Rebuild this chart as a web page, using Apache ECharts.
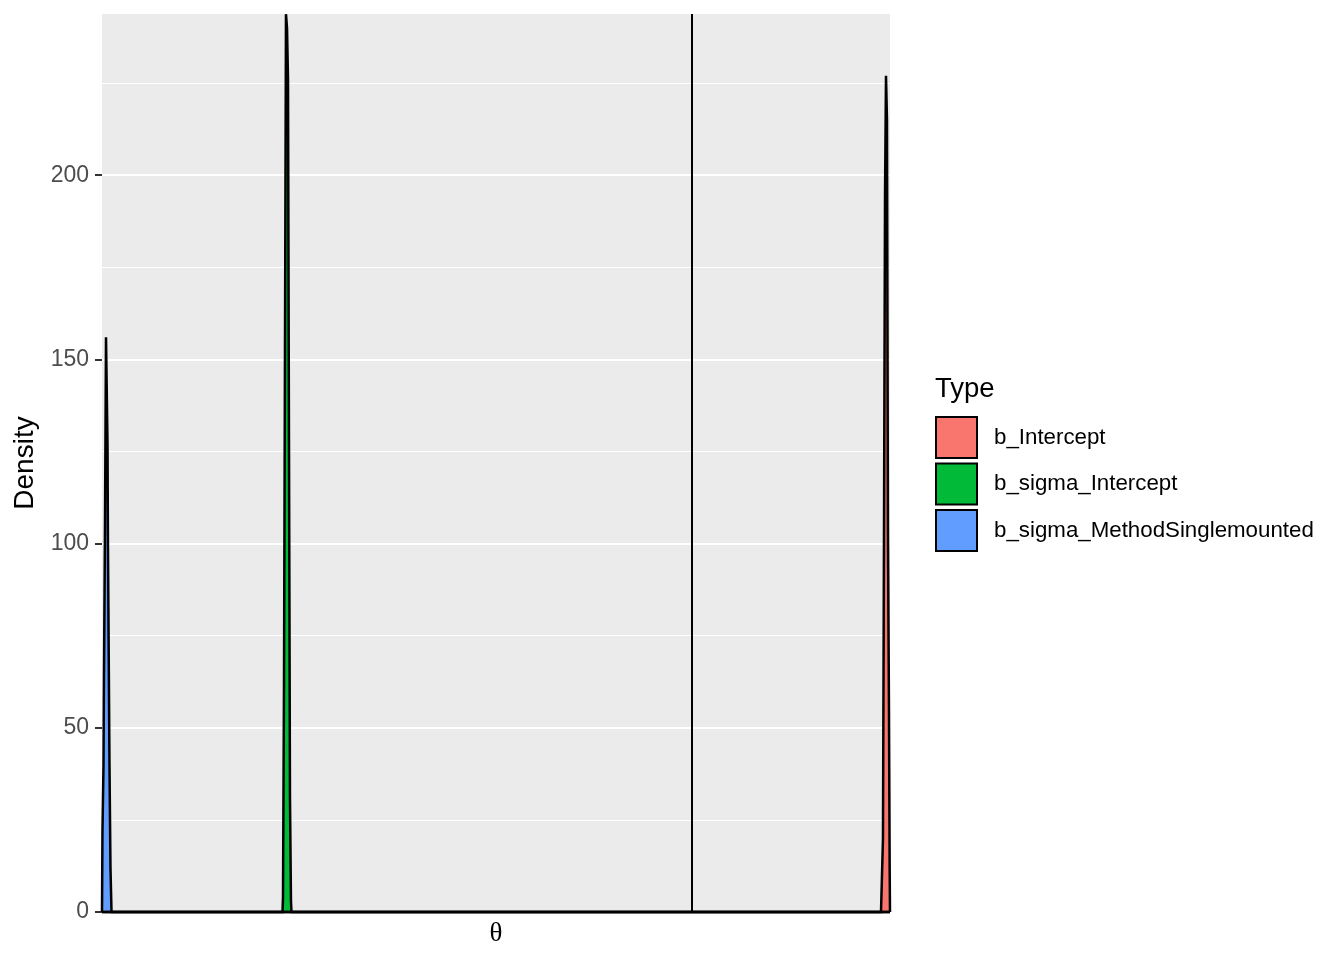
<!DOCTYPE html>
<html>
<head>
<meta charset="utf-8">
<script src="https://cdn.jsdelivr.net/npm/echarts@6/dist/echarts.min.js"></script>
<style>
html,body{margin:0;padding:0;background:#fff;overflow:hidden;}
#c{width:1344px;height:960px;}
</style>
</head>
<body>
<div id="c"></div>
<script>
// ---- data ----
const seriesNames = ['b_Intercept', 'b_sigma_Intercept', 'b_sigma_MethodSinglemounted'];
const seriesColors = ['#F8766D', '#00BA38', '#619CFF'];
const xRange = [-1.1346, 0.3808];
const yRange = [0, 243.75];
const yTicks = [0, 50, 100, 150, 200];
const vlineX = [0];

// density curves, [theta, density]
const bInterceptDens = [
  [-1.1346, 0], [0.3635, 0], [0.3654, 10], [0.3673, 20], [0.3692, 100],
  [0.3712, 194], [0.3731, 227], [0.3750, 215], [0.3769, 102],
  [0.3788, 56], [0.3802, 11], [0.3808, 11], [0.3808, 0]
];
const bSigmaInterceptDens = [
  [-1.1346, 0], [-0.7875, 0], [-0.7865, 4], [-0.7846, 62], [-0.7827, 153],
  [-0.7808, 243.7], [-0.7788, 240], [-0.7769, 226], [-0.7750, 127],
  [-0.7731, 31], [-0.7712, 3], [-0.7702, 0], [0.3808, 0]
];
const bSigmaMethodDens = [
  [-1.1346, 0], [-1.1337, 22], [-1.1317, 40], [-1.1308, 64], [-1.1288, 106],
  [-1.1269, 156], [-1.1240, 127], [-1.1231, 99], [-1.1202, 40],
  [-1.1183, 12], [-1.1163, 0], [0.3808, 0]
];
const densities = [bInterceptDens, bSigmaInterceptDens, bSigmaMethodDens];

// ---- chart ----
const chart = echarts.init(document.getElementById('c'));
const series = seriesNames.map((n, i) => ({
  name: n,
  type: 'line',
  data: densities[i],
  symbol: 'none',
  smooth: false,
  clip: false,
  itemStyle: { color: seriesColors[i], borderColor: '#000', borderWidth: 2 },
  lineStyle: { color: '#000', width: 2.5, join: 'miter' },
  areaStyle: { color: seriesColors[i], opacity: 1 },
  z: 3
}));
series.push({
  name: 'vline',
  type: 'line',
  data: [],
  markLine: {
    silent: true,
    symbol: 'none',
    label: { show: false },
    lineStyle: { color: '#000', width: 2, type: 'solid' },
    data: vlineX.map(v => ({ xAxis: v }))
  },
  z: 4
});

chart.setOption({
  animation: false,
  backgroundColor: '#fff',
  textStyle: { fontFamily: 'Liberation Sans, Arial, sans-serif' },
  grid: {
    left: 102, right: 454, top: 14, bottom: 48,
    show: true, backgroundColor: '#EBEBEB', borderWidth: 0
  },
  xAxis: {
    type: 'value',
    min: xRange[0], max: xRange[1],
    name: 'θ',
    nameLocation: 'middle',
    nameGap: 8,
    nameTextStyle: { fontFamily: 'Liberation Serif, DejaVu Serif, serif', fontSize: 27, color: '#000' },
    axisLine: { show: false, onZero: false },
    axisTick: { show: false },
    axisLabel: { show: false },
    splitLine: { show: false }
  },
  yAxis: {
    type: 'value',
    min: yRange[0], max: yRange[1],
    interval: 50,
    name: 'Density',
    nameLocation: 'middle',
    nameRotate: 90,
    nameGap: 57,
    nameTextStyle: { fontSize: 28, color: '#000' },
    axisLine: { show: false, onZero: false },
    axisTick: { show: true, length: 7, customValues: yTicks, lineStyle: { color: '#333', width: 2 } },
    axisLabel: {
      fontSize: 23, color: '#4D4D4D', margin: 13,
      customValues: yTicks,
      formatter: v => (yTicks.indexOf(v) >= 0 ? String(v) : '')
    },
    splitLine: { show: true, lineStyle: { color: '#fff', width: 2 } },
    minorTick: { show: false, splitNumber: 2 },
    minorSplitLine: { show: true, lineStyle: { color: '#fff', width: 1 } }
  },
  legend: {
    orient: 'vertical',
    left: 935, top: 416,
    padding: 0,
    itemWidth: 41, itemHeight: 41,
    itemGap: 3.5,
    icon: 'rect',
    textStyle: { fontSize: 22.3, color: '#000', padding: [0, 0, 0, 12] },
    data: seriesNames.map((n, i) => ({
      name: n,
      itemStyle: { color: seriesColors[i], borderColor: '#000', borderWidth: 2 }
    }))
  },
  graphic: [{
    type: 'text',
    left: 935, top: 375,
    style: { text: 'Type', fontSize: 27.5, fill: '#000', fontFamily: 'Liberation Sans, Arial, sans-serif' }
  }],
  series: series
});
</script>
</body>
</html>
